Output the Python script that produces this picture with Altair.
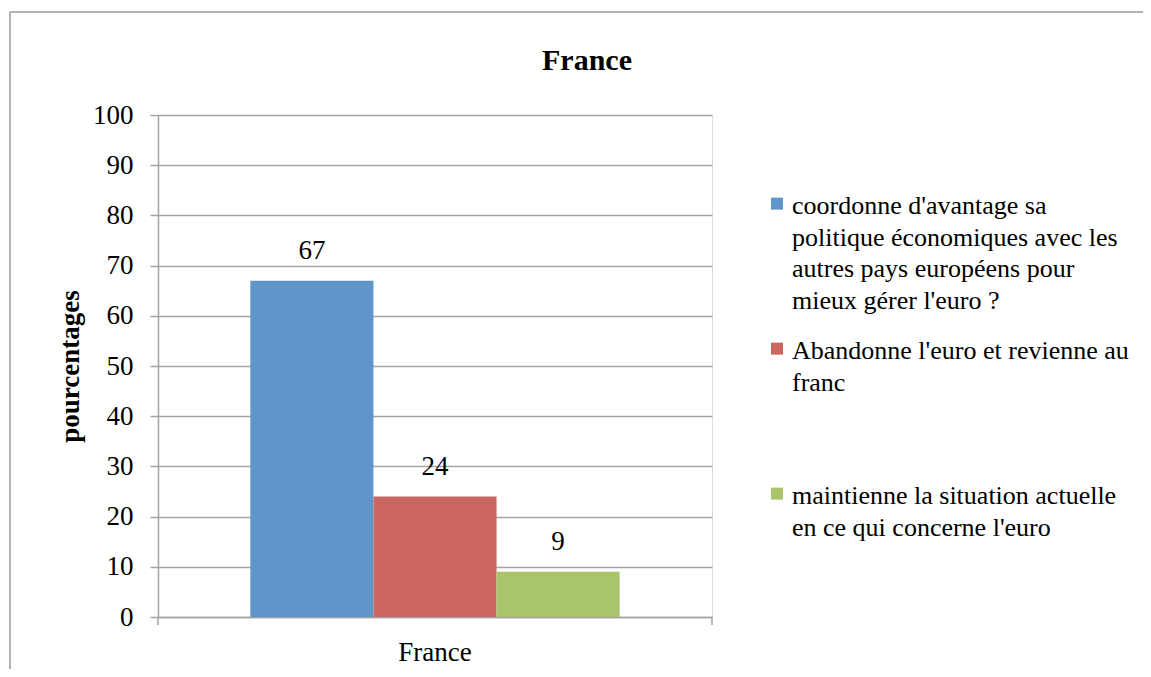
import json
import altair as alt
import pandas as pd

# ---- data ----
country = ["France", "France", "France"]
series = [
    "coordonne d'avantage sa politique économiques avec les autres pays européens pour mieux gérer l'euro ?",
    "Abandonne l'euro et revienne au franc",
    "maintienne la situation actuelle en ce qui concerne l'euro",
]
legend_lines = [
    ["coordonne d'avantage sa", "politique économiques avec les", "autres pays européens pour", "mieux gérer l'euro ?"],
    ["Abandonne l'euro et revienne au", "franc", "", ""],
    ["maintienne la situation actuelle", "en ce qui concerne l'euro"],
]
values = [67, 24, 9]
colors = ["#5f95c8", "#cc6660", "#a9c46b"]
y_ticks = list(range(0, 101, 10))

df = pd.DataFrame({"pays": country, "serie": series, "valeur": values})

FONT = "Liberation Serif"
GRID = "#a3a3a3"

# label expression: split each long legend entry onto its lines
expr = "''"
for name, lines in reversed(list(zip(series, legend_lines))):
    expr = f"datum.label == {json.dumps(name)} ? {json.dumps(lines)} : {expr}"

W, H = 554, 502

base = alt.Chart(df).encode(
    x=alt.X(
        "pays:N",
        title=None,
        scale=alt.Scale(paddingInner=0, paddingOuter=0.25),
        axis=alt.Axis(
            labelAngle=0, labelFont=FONT, labelFontSize=27, labelColor="#000000",
            labelPadding=22, ticks=False, domainColor=GRID, domainWidth=1.5, grid=False,
        ),
    ),
    xOffset=alt.XOffset("serie:N", sort=series, scale=alt.Scale(paddingInner=0, paddingOuter=0)),
)

bars = base.mark_bar().encode(
    y=alt.Y(
        "valeur:Q",
        title="pourcentages",
        scale=alt.Scale(domain=[0, 100], nice=False),
        axis=alt.Axis(
            values=y_ticks, grid=True, gridColor=GRID, gridWidth=1.5,
            domainColor=GRID, domainWidth=1.5, tickColor=GRID, tickWidth=1.5, tickSize=8,
            labelFont=FONT, labelFontSize=27, labelColor="#000000", labelPadding=17,
            titleFont=FONT, titleFontSize=27, titleFontWeight="bold", titleColor="#000000",
            titlePadding=8,
        ),
    ),
    color=alt.Color(
        "serie:N",
        sort=series,
        scale=alt.Scale(domain=series, range=colors),
        legend=alt.Legend(
            title=None, orient="none", legendX=606, legendY=65,
            symbolType="M-1,0.77H1V2.77H-1Z", symbolSize=144, symbolStrokeWidth=0,
            labelFont=FONT, labelFontSize=26, labelColor="#000000", labelLimit=420,
            labelOffset=2, labelExpr=expr, labelBaseline="top", rowPadding=10,
        ),
    ),
)

labels = base.mark_text(font=FONT, fontSize=27, baseline="bottom", dy=-16, color="#000000").encode(
    y=alt.Y("valeur:Q"),
    text=alt.Text("valeur:Q"),
)

deco = alt.Chart(alt.Data(values=[{"k": 1}]))
tick_l = deco.mark_rule(color=GRID, strokeWidth=1.5).encode(
    x=alt.value(0), y=alt.value(H), y2=alt.value(H + 8))
tick_r = deco.mark_rule(color=GRID, strokeWidth=1.5).encode(
    x=alt.value(W), y=alt.value(H), y2=alt.value(H + 8))
frame_left = deco.mark_rule(color="#9a9a9a", strokeWidth=1.5).encode(
    x=alt.value(-148), y=alt.value(-103), y2=alt.value(H + 200))
frame_top = deco.mark_rule(color="#9a9a9a", strokeWidth=1.5).encode(
    x=alt.value(-148), x2=alt.value(W + 800), y=alt.value(-103))

chart = alt.layer(bars, labels, tick_l, tick_r, frame_left, frame_top).properties(
    width=W,
    height=H,
    title=alt.TitleParams(
        "France", font=FONT, fontSize=30, fontWeight="bold", color="#000000",
        anchor="middle", frame="group", dx=152, offset=-65,
    ),
    autosize=alt.AutoSizeParams(type="none"),
    padding={"left": 150, "top": 107, "right": 431, "bottom": 52},
).configure_view(stroke=None).configure_axis(labelFont=FONT).configure(
    style={"guide-label": {"lineHeight": 31.7}}
)

chart.save("out.html", embed_options={"renderer": "svg", "actions": False})
